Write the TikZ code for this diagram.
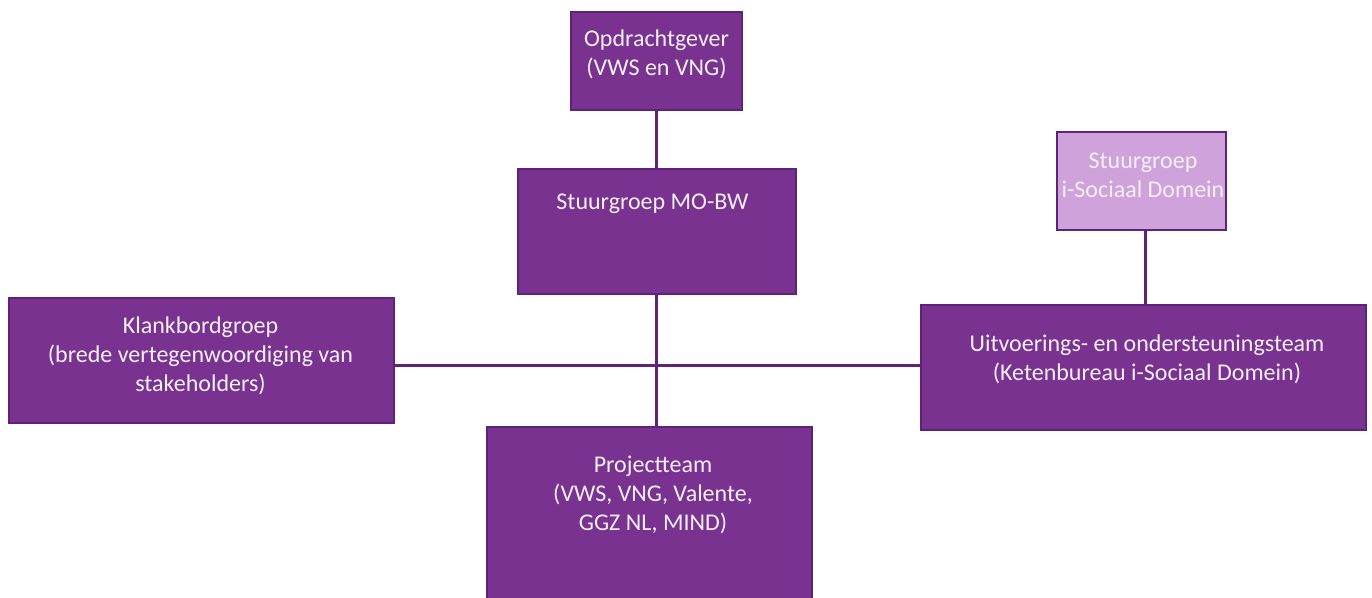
\documentclass[tikz,border=0pt]{standalone}
\usepackage{fontspec}
\setmainfont{Carlito}
\definecolor{boxfill}{HTML}{7A3291}
\definecolor{boxline}{HTML}{5E2278}
\definecolor{lightfill}{HTML}{CFA2DC}
\definecolor{txt}{HTML}{F4F0F6}
\begin{document}
\begin{tikzpicture}[x=1pt,y=-1pt,
  box/.style={draw=boxline,line width=2.5pt,fill=boxfill,rectangle,inner sep=0pt},
  lightbox/.style={box,fill=lightfill},
  lbl/.style={text=txt,align=center,font=\fontsize{24}{29}\selectfont,inner sep=0pt,anchor=north},
  conn/.style={draw=boxline,line width=3pt}]
\useasboundingbox (0,0) rectangle (1372,597);
\clip (0,0) rectangle (1372,597);
% boxes
\node[box,minimum width=171pt,minimum height=98pt] (opd) at (656.5,61) {};
\node[box,minimum width=278pt,minimum height=125pt] (stu) at (657,231.5) {};
\node[lightbox,minimum width=169pt,minimum height=98pt] (isd) at (1141.5,181) {};
\node[box,minimum width=385pt,minimum height=125pt] (kla) at (201.5,360.5) {};
\node[box,minimum width=445pt,minimum height=125pt] (uit) at (1143.5,367.5) {};
\node[box,minimum width=325pt,minimum height=200pt] (pro) at (649.5,527) {};
% connectors
\coordinate (hub) at (656,365);
\draw[conn] (opd.south -| hub) -- (stu.north -| hub);
\draw[conn] (stu.south -| hub) -- (pro.north -| hub);
\draw[conn] (kla.east |- hub) -- (uit.west |- hub);
\draw[conn] (isd.south -| 1145,0) -- (uit.north -| 1145,0);
% labels
\node[lbl] (t1) at (656.5,30) {Opdrachtgever\\(VWS en VNG)};
\node[lbl] (t2) at (652.5,194) {Stuurgroep MO-BW};
\node[lbl] (t3) at (1143,153) {Stuurgroep\\i-Sociaal Domein};
\node[lbl] (t4) at (200.5,317) {Klankbordgroep\\(brede vertegenwoordiging van\\stakeholders)};
\node[lbl] (t5) at (1147,335) {Uitvoerings- en ondersteuningsteam\\(Ketenbureau i-Sociaal Domein)};
\node[lbl] (t6) at (653,456) {Projectteam\\(VWS, VNG, Valente,\\GGZ NL, MIND)};
\end{tikzpicture}
\end{document}
